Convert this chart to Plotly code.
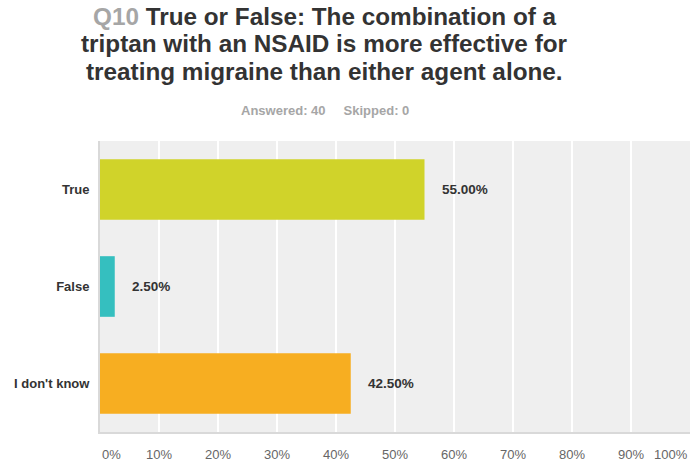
import plotly.graph_objects as go

categories = ["True", "False", "I don't know"]
values = [55.00, 2.50, 42.50]
colors = ["#d0d32a", "#35bfbf", "#f7ae21"]
tick_values = [0, 10, 20, 30, 40, 50, 60, 70, 80, 90, 100]
tick_labels = ["0%", "10%", "20%", "30%", "40%", "50%", "60%", "70%", "80%", "90%", "100%"]
title_lines = [
    "<span style='color:#a6a6a6'>Q10</span> True or False: The combination of a",
    "triptan with an NSAID is more effective for",
    "treating migraine than either agent alone.",
]
subtitle = "Answered: 40&nbsp;&nbsp;&nbsp;&nbsp;&nbsp;Skipped: 0"

FONT = "Liberation Sans, Arial, sans-serif"
L, R, T, B = 100, 2, 141, 33
W, H = 692, 465

fig = go.Figure()
fig.add_trace(go.Bar(
    y=categories, x=values, orientation="h",
    marker=dict(color=colors, line=dict(width=0)),
    width=0.625, hoverinfo="skip",
))

annotations = []
for c, v in zip(categories, values):
    annotations.append(dict(
        x=v, y=c, xref="x", yref="y", text=f"<b>{v:.2f}%</b>",
        showarrow=False, xanchor="left", xshift=15,
        font=dict(family=FONT, size=13.5, color="#333333"),
    ))
for tv, tl in zip(tick_values, tick_labels):
    anchor = "left" if tv == tick_values[0] else ("right" if tv == tick_values[-1] else "center")
    annotations.append(dict(
        x=tv, y=0, xref="x", yref="paper", text=tl, showarrow=False,
        xanchor=anchor, yanchor="middle", yshift=-22,
        font=dict(family=FONT, size=13, color="#666666"),
    ))

cx = (324.5 - L) / (W - L - R)
title_centers = [16, 43.5, 71]
for line, yc in zip(title_lines, title_centers):
    annotations.append(dict(
        x=cx, y=1, xref="paper", yref="paper", xanchor="center", yanchor="middle",
        yshift=T - yc, text=f"<b>{line}</b>", showarrow=False,
        font=dict(family=FONT, size=24.3, color="#333333"),
    ))
annotations.append(dict(
    x=cx, y=1, xref="paper", yref="paper", xanchor="center", yanchor="middle",
    yshift=T - 110, text=f"<b>{subtitle}</b>", showarrow=False,
    font=dict(family=FONT, size=13, color="#a6a6a6"),
))

fig.update_layout(
    width=W, height=H,
    margin=dict(l=L, r=R, t=T, b=B),
    paper_bgcolor="white", plot_bgcolor="#efefef",
    showlegend=False,
    font=dict(family=FONT, color="#333333"),
    xaxis=dict(
        range=[0, 100], tickvals=tick_values, showticklabels=False,
        showgrid=True, gridcolor="white", gridwidth=2,
        zeroline=False, showline=True, linecolor="#d9d9d9", linewidth=2,
        fixedrange=True,
    ),
    yaxis=dict(
        autorange="reversed", showgrid=False, zeroline=False,
        showline=True, linecolor="#d9d9d9", linewidth=2,
        tickfont=dict(family=FONT, size=13, color="#333333"),
        ticklabelstandoff=6, ticks="",
        tickvals=categories, ticktext=[f"<b>{c}</b>" for c in categories],
        fixedrange=True,
    ),
    annotations=annotations,
)

fig.write_html(
    "out.html",
    config={"displayModeBar": False},
    post_script="document.body.style.margin='0';document.body.style.padding='0';",
)
